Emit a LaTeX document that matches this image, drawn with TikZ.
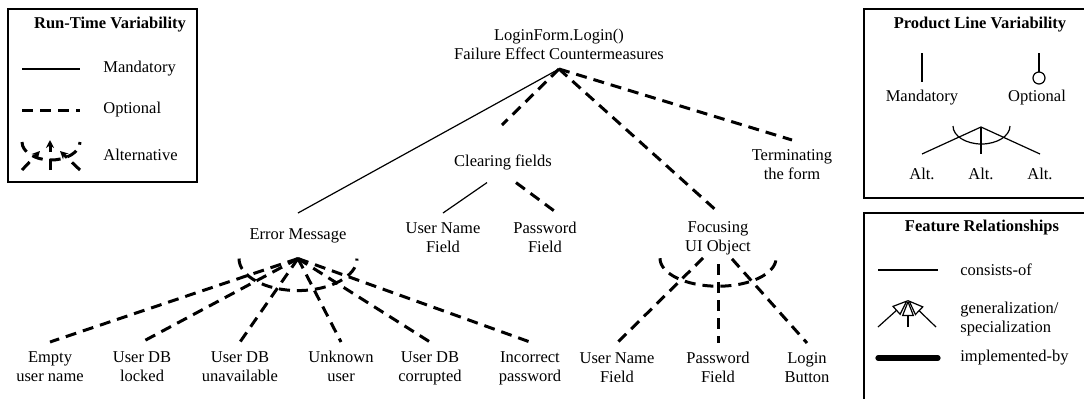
\documentclass[tikz,border=0pt]{standalone}
\usepackage{fontspec}
\setmainfont{Liberation Serif}
\usetikzlibrary{arrows.meta,positioning,calc}
\tikzset{
  feat/.style     = {align=center, inner xsep=0pt, inner ysep=4.5pt,
                     font=\fontsize{8.25}{9.5}\selectfont},
  legtxt/.style   = {inner sep=0pt, font=\fontsize{8.25}{9.5}\selectfont},
  legtitle/.style = {inner sep=0pt, font=\fontsize{8.25}{9.5}\selectfont\bfseries},
  legbox/.style   = {draw, line width=0.65pt},
  mand/.style     = {line width=0.6pt},
  opt/.style      = {line width=1.5pt, dash pattern=on 5.5pt off 3.5pt},
  altarrow/.style = {opt, -{Stealth[length=4pt, width=4pt]}},
  impl/.style     = {line width=2.6pt, line cap=round},
  gen/.style      = {line width=0.6pt, -{Triangle[open, length=8pt, width=6pt]}},
}

\begin{document}
\begin{tikzpicture}[x=0.5pt, y=-0.5pt]
\useasboundingbox (0,0) rectangle (1084,398);

% run-time legend
\draw[legbox] (8,9) rectangle (197,182);
\node[legtitle] (rttitle) at (110,25) {Run-Time Variability};
\node[legtxt, anchor=west] (rtmand) at (103,69)  {Mandatory};
\node[legtxt, anchor=west] (rtopt)  at (103,110) {Optional};
\node[legtxt, anchor=west] (rtalt)  at (103,155) {Alternative};
\draw[mand] (22,69) -- (80,69);
\draw[opt] (22,110) -- (80,110);
\draw[opt] (22,142) arc[start angle=180, end angle=360, x radius=14.5pt, y radius=9pt];
\draw[altarrow] (50,170) -- (50,140);
\draw[altarrow] (22,170) -- (40,151);
\draw[altarrow] (80,170) -- (60,151);

% product line legend
\draw[legbox] (864,9) rectangle (1090,198);
\node[legtitle] (pltitle) at (980,25) {Product Line Variability};
\node[legtxt] (plmand) at (922,98)  {Mandatory};
\node[legtxt] (plopt)  at (1037,98) {Optional};
\draw[mand] (922,53) -- (922,82);
\draw[mand] (1039,53) -- (1039,72);
\draw[mand] (1039,78) circle[radius=3pt];
\coordinate (plfork) at (981,127);
\foreach \n/\x in {alta/922, altb/981, altc/1040}{
  \node[legtxt, anchor=north, inner ysep=7pt] (\n) at (\x,154) {Alt.};
  \draw[mand] (plfork) -- (\n.north);
}
\draw[mand] (953,126) arc[start angle=180, end angle=360, x radius=14.25pt, y radius=9pt];

% feature relationships legend
\draw[legbox] (864,213) rectangle (1090,405);
\node[legtitle] (frtitle) at (982,228) {Feature Relationships};
\node[legtxt, anchor=west] (frcons) at (960,270) {consists-of};
\node[legtxt, anchor=west, align=left] (frgen) at (960,319.5) {generalization/\\specialization};
\node[legtxt, anchor=west] (frimpl) at (960,358) {implemented-by};
\draw[mand] (878,270) -- (938,270);
\coordinate (genfork) at (908,300);
\foreach \x in {878,908,936}
  \draw[gen] (\x,327) -- (genfork);
\draw[impl] (878,358) -- (938,358);

% feature tree
\node[feat, anchor=south] (root) at (559,69) {LoginForm.Login()\\Failure Effect Countermeasures};
\node[feat, anchor=north, inner ysep=7.6pt] (err) at (298,213) {Error Message};
\coordinate (clrtop) at (502,125);
\node[feat, inner ysep=6.3pt] (clr) at (503,162) {Clearing fields};
\node[feat, anchor=north] (foc)  at (718,212) {Focusing\\UI Object};
\node[feat, anchor=north] (term) at (792,140) {Terminating\\the form};

\draw[mand] (root.south) -- (err.north);
\draw[opt]  (root.south) -- (clrtop);
\draw[opt]  (root.south) -- (foc.north);
\draw[opt]  (root.south) -- (term.north);

% clearing fields
\node[feat, anchor=north] (clrname) at (443,213) {User Name\\Field};
\node[feat, anchor=north] (clrpass) at (545,213) {Password\\Field};
\draw[mand] ([xshift=-8pt]clr.south) -- (clrname.north);
\draw[opt]  ([xshift=6.5pt]clr.south) -- ([xshift=6pt]clrpass.north);

% error message alternatives
\foreach \n/\x/\t in {empty/50/{Empty\\user name}, locked/142/{User DB\\locked},
    unavail/240/{User DB\\unavailable}, unknown/341/{Unknown\\user},
    corrupt/430/{User DB\\corrupted}, badpw/530/{Incorrect\\password}}{
  \node[feat, anchor=north] (\n) at (\x,342) {\t};
  \draw[opt] (err.south) -- (\n.north);
}
\draw[opt] ([xshift=-29.5pt]err.south) arc[start angle=180, end angle=360, x radius=29.5pt, y radius=16pt];

% focusing alternatives
\coordinate (focfork) at ([yshift=10.5pt]foc.south);
\foreach \n/\x/\t in {focname/617/{User Name\\Field}, focpass/718/{Password\\Field},
    foclogin/807/{Login\\Button}}{
  \node[feat, anchor=north] (\n) at (\x,343) {\t};
  \draw[opt, shorten <=10.5pt] (focfork) -- (\n.north);
}
\draw[opt] ([shift={(-58,15)}]focfork) arc[start angle=180, end angle=360, x radius=29pt, y radius=14pt];
\end{tikzpicture}
\end{document}
